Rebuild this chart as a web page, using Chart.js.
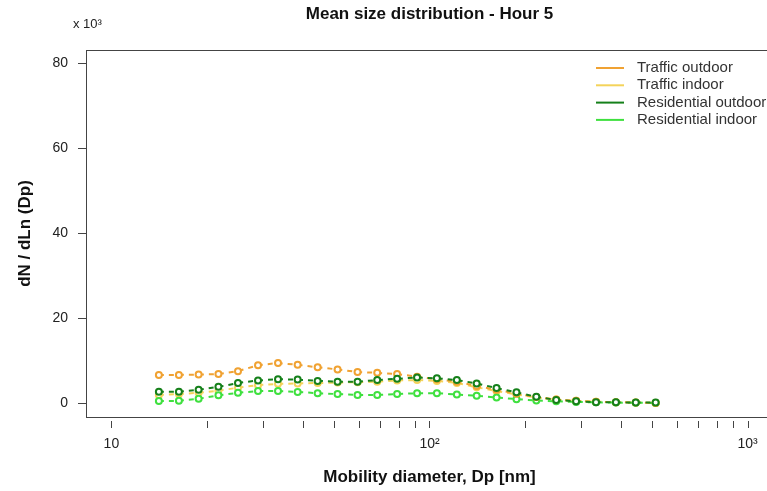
<!DOCTYPE html>
<html>
<head>
<meta charset="utf-8">
<script src="https://cdn.jsdelivr.net/npm/chart.js@4.4.1/dist/chart.umd.min.js"></script>
<style>
  html, body { margin: 0; padding: 0; overflow: hidden; background: #fff; }
  #wrap { width: 767px; height: 491px; overflow: hidden; }
</style>
</head>
<body>
<div id="wrap"><canvas id="chart" width="780" height="491"></canvas></div>
<script>
// mobility diameter bins (nm), 16 channels per decade
const diameters = [14.1, 16.3, 18.8, 21.7, 25.0, 28.9, 33.4, 38.5, 44.5, 51.4, 59.4, 68.5, 79.1,
  91.4, 105.5, 121.9, 140.7, 162.5, 187.7, 216.7, 250.3, 289.0, 333.8, 385.5, 445.1, 514.0];

// dN/dLn(Dp), in thousands
const trafficOutdoor = [6.7, 6.7, 6.8, 6.9, 7.6, 9.0, 9.5, 9.1, 8.5, 8.0, 7.4, 7.2, 6.9,
  6.3, 5.7, 5.1, 4.1, 3.2, 2.3, 1.5, 0.9, 0.6, 0.4, 0.3, 0.2, 0.1];
const trafficIndoor = [2.0, 2.2, 2.5, 3.0, 3.7, 4.3, 4.6, 4.7, 4.8, 4.9, 5.0, 5.1, 5.4,
  5.5, 5.3, 4.8, 3.8, 2.9, 2.1, 1.4, 0.9, 0.6, 0.4, 0.3, 0.2, 0.15];
const residentialOutdoor = [2.75, 2.75, 3.2, 3.9, 4.8, 5.4, 5.7, 5.6, 5.3, 5.1, 5.1, 5.5, 5.8,
  6.1, 5.9, 5.5, 4.7, 3.6, 2.6, 1.55, 0.8, 0.5, 0.3, 0.25, 0.2, 0.2];
const residentialIndoor = [0.55, 0.6, 1.1, 1.9, 2.5, 2.9, 2.9, 2.7, 2.4, 2.2, 2.0, 2.0, 2.2,
  2.4, 2.4, 2.1, 1.8, 1.4, 1.0, 0.7, 0.5, 0.35, 0.25, 0.2, 0.15, 0.1];

const seriesLabels = ["Traffic outdoor", "Traffic indoor", "Residential outdoor", "Residential indoor"];
const xTickValues = [10, 20, 30, 40, 50, 60, 70, 80, 90, 100, 200, 300, 400, 500, 600, 700, 800, 900, 1000];
const yTickValues = [0, 20, 40, 60, 80];

const FONT = "'Liberation Sans', Arial, sans-serif";
const colors = ["#f0a232", "#f4d35a", "#15801a", "#3fe03f"];

function toPoints(values) {
  return values.map(function (v, i) { return { x: diameters[i], y: v }; });
}

function makeDataset(label, values, color, order) {
  return {
    label: label,
    data: toPoints(values),
    borderColor: color,
    borderWidth: 2,
    borderDash: [5, 5],
    pointRadius: 3,
    pointBorderWidth: 2,
    pointBorderColor: color,
    pointBackgroundColor: "#ffffff",
    tension: 0,
    order: order,
  };
}

// plot box, detached x tick marks and the "x 10^3" note
const frame = {
  id: "frame",
  afterDraw: function (chart) {
    const ctx = chart.ctx;
    const area = chart.chartArea;
    const xScale = chart.scales.x;
    ctx.save();
    ctx.strokeStyle = "#444";
    ctx.lineWidth = 1;
    ctx.strokeRect(area.left + 0.5, area.top + 0.5, area.right - area.left, area.bottom - area.top);
    ctx.beginPath();
    xTickValues.forEach(function (v) {
      const px = Math.round(xScale.getPixelForValue(v)) + 0.5;
      ctx.moveTo(px, area.bottom + 4);
      ctx.lineTo(px, area.bottom + 11);
    });
    ctx.stroke();
    ctx.fillStyle = "#222";
    ctx.font = "13px " + FONT;
    ctx.textAlign = "left";
    ctx.textBaseline = "middle";
    ctx.fillText("x 10\u00b3", 73, 24);
    ctx.restore();
  },
};

// legend with line keys, top right inside the box
const lineLegend = {
  id: "lineLegend",
  afterDraw: function (chart) {
    const ctx = chart.ctx;
    ctx.save();
    ctx.font = "15px " + FONT;
    ctx.textAlign = "left";
    ctx.textBaseline = "middle";
    chart.data.datasets.forEach(function (ds, i) {
      const y = 68 + i * 17.3;
      ctx.strokeStyle = ds.borderColor;
      ctx.lineWidth = 2;
      ctx.beginPath();
      ctx.moveTo(596, y);
      ctx.lineTo(624, y);
      ctx.stroke();
      ctx.fillStyle = "#333";
      ctx.fillText(ds.label, 637, y);
    });
    ctx.restore();
  },
};

const ctx = document.getElementById("chart").getContext("2d");
new Chart(ctx, {
  type: "line",
  data: {
    datasets: [
      makeDataset(seriesLabels[0], trafficOutdoor, colors[0], 1),
      makeDataset(seriesLabels[1], trafficIndoor, colors[1], 3),
      makeDataset(seriesLabels[2], residentialOutdoor, colors[2], 0),
      makeDataset(seriesLabels[3], residentialIndoor, colors[3], 2),
    ],
  },
  options: {
    responsive: false,
    animation: false,
    layout: { padding: { left: 0, right: 7, top: 0, bottom: 0 } },
    plugins: {
      legend: { display: false },
      tooltip: { enabled: false },
      title: {
        display: true,
        text: "Mean size distribution - Hour 5",
        fullSize: false,
        color: "#111",
        font: { family: FONT, size: 17, weight: "bold", lineHeight: 1.2 },
        padding: { top: 4, bottom: 25.6 },
      },
    },
    scales: {
      x: {
        type: "logarithmic",
        min: 8.32,
        max: 1202,
        afterBuildTicks: function (scale) {
          scale.ticks = xTickValues.map(function (v) { return { value: v }; });
        },
        afterFit: function (scale) { scale.height = 74; },
        grid: { display: false, drawTicks: true, tickLength: 8 },
        border: { display: false },
        ticks: {
          autoSkip: false,
          maxRotation: 0,
          padding: 11,
          color: "#222",
          font: { family: FONT, size: 14 },
          callback: function (value) {
            if (value === 10) return "10";
            if (value === 100) return "10\u00b2";
            if (value === 1000) return "10\u00b3";
            return "";
          },
        },
        title: {
          display: true,
          text: "Mobility diameter, Dp [nm]",
          color: "#111",
          font: { family: FONT, size: 17, weight: "bold", lineHeight: 1.2 },
          padding: { top: 0, bottom: 3 },
        },
      },
      y: {
        min: -3.2,
        max: 83.2,
        afterBuildTicks: function (scale) {
          scale.ticks = yTickValues.map(function (v) { return { value: v }; });
        },
        afterFit: function (scale) { scale.width = 86; },
        grid: { drawOnChartArea: false, drawTicks: true, tickLength: 8, color: "#444" },
        border: { display: false },
        ticks: {
          padding: 10,
          color: "#222",
          font: { family: FONT, size: 14 },
        },
        title: {
          display: true,
          text: "dN / dLn (Dp)",
          color: "#111",
          font: { family: FONT, size: 17, weight: "bold", lineHeight: 1.2 },
          padding: { top: 15, bottom: 0 },
        },
      },
    },
  },
  plugins: [frame, lineLegend],
});
</script>
</body>
</html>
